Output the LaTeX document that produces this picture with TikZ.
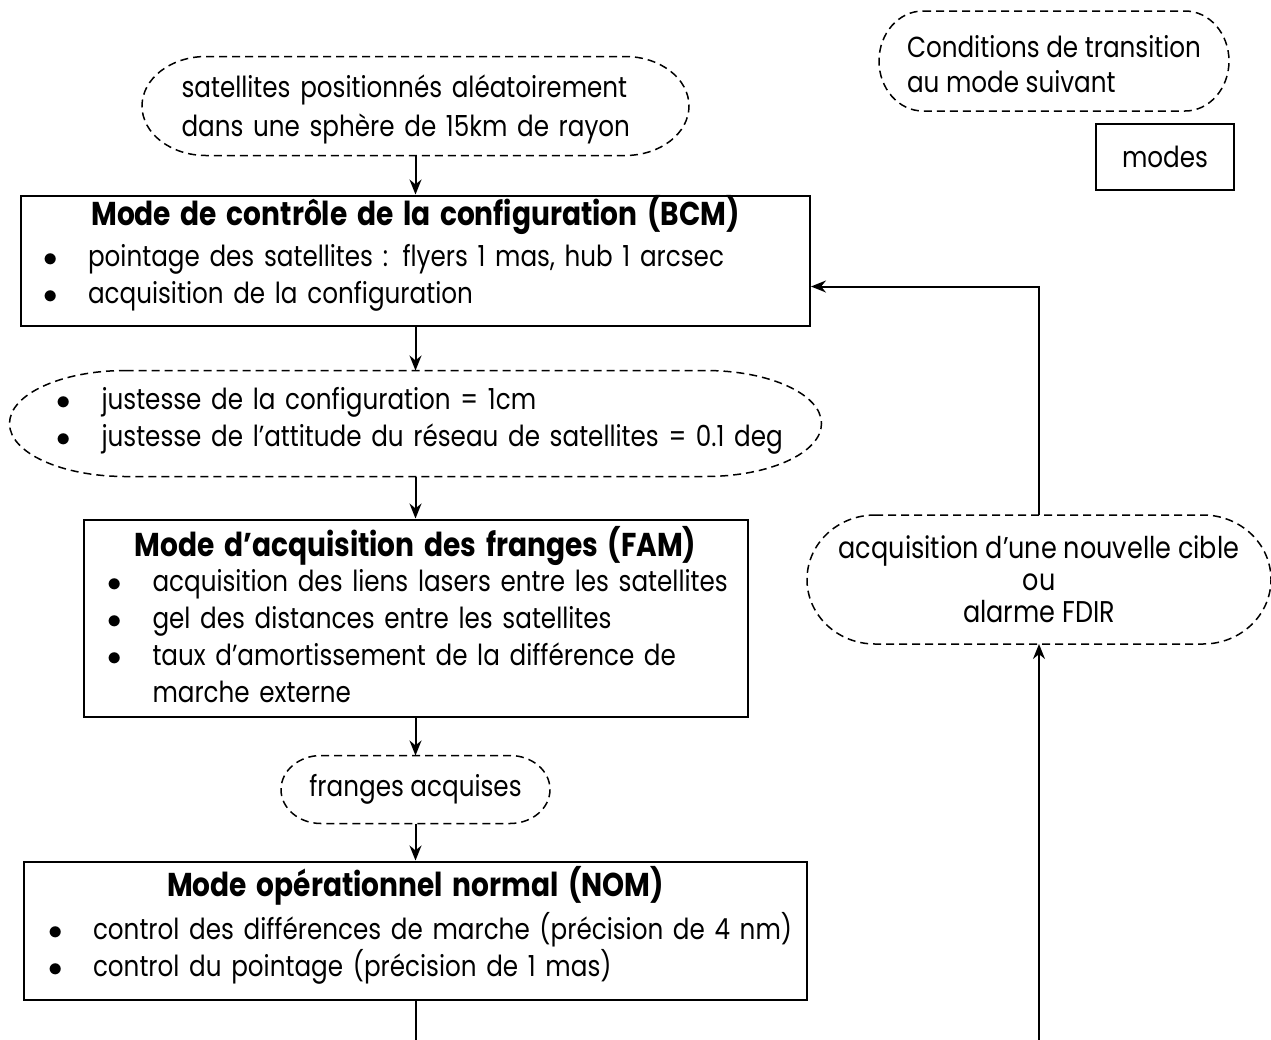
\documentclass[tikz,border=0pt]{standalone}
\usepackage{fontspec}
\setmainfont{Poppins}[FakeStretch=0.85]
\usetikzlibrary{arrows.meta,positioning,calc}
\newlength{\pucew}\setlength{\pucew}{22.5pt}
\newcommand{\puce}[2][0pt]{\noindent\hspace*{#1}\makebox[\pucew][l]{$\bullet$}\mbox{#2}\par}
\newcommand{\suite}[1]{\noindent\hspace*{\pucew}\mbox{#1}\par}
\newcommand{\titre}[2][0pt]{{\centering\fontsize{16.5}{18.5}\selectfont\bfseries #2\par}\vspace{#1}}
% contour pointille a bouts elliptiques
\newcommand{\contour}[2]{\draw[trait] let \p1=($(#1.north)-(#1.south)$) in
  ([xshift=#2]#1.north west) -- ([xshift=-#2]#1.north east)
  arc[start angle=90,end angle=-90,x radius=#2,y radius=0.5*\y1]
  -- ([xshift=#2]#1.south west)
  arc[start angle=270,end angle=90,x radius=#2,y radius=0.5*\y1] -- cycle;}

\begin{document}
\begin{tikzpicture}[x=0.5pt,y=-0.5pt,line width=1pt,>={Stealth[length=7.5pt,width=6pt]},
  base/.style={font=\fontsize{14.5}{18.5}\selectfont,inner ysep=3pt},
  mode/.style={base,draw,align=left,text width=#1,inner ysep=0pt},
  cond/.style={base,align=left,text width=#1,inner ysep=0pt},
  trait/.style={line width=0.75pt,dash pattern=on 4pt off 2.5pt}]
\useasboundingbox (0,0) rectangle (1271,1040);

\node[cond=234pt,inner xsep=19.25pt,text height=20pt,text depth=28.5pt,font=\fontsize{14.5}{19.5}\selectfont] (alea) at (415.5,106)
  {\makebox[\hsize][s]{satellites positionnés aléatoirement}\par dans une sphère de 15km de rayon};
\node[mode=372.5pt,inner xsep=11pt,text height=14.75pt,text depth=50.25pt,below=19.5pt of alea] (BCM)
  {\titre[2pt]{Mode de contrôle de la configuration (BCM)}
   \puce{pointage des satellites : flyers 1 mas, hub 1 arcsec}
   \puce{acquisition de la configuration}};
\node[cond=381pt,inner xsep=12pt,text height=19pt,text depth=33pt,below=22pt of BCM] (justesse)
  {\puce[11pt]{justesse de la configuration = 1cm}
   \puce[11pt]{justesse de l’attitude du réseau de satellites = 0.1 deg}};
\node[mode=308pt,inner xsep=12pt,text height=18.25pt,text depth=80.25pt,below=21pt of justesse] (FAM)
  {\titre[-1pt]{Mode d’acquisition des franges (FAM)}
   \puce{acquisition des liens lasers entre les satellites}
   \puce{gel des distances entre les satellites}
   \puce{taux d’amortissement de la différence de}
   \suite{marche externe}};
\node[base,minimum width=133.5pt,minimum height=33pt,below=19pt of FAM] (franges) {franges acquises};
\node[mode=367.5pt,inner xsep=12pt,text height=17.25pt,text depth=51.75pt,below=18.5pt of franges] (NOM)
  {\titre[3pt]{Mode opérationnel normal (NOM)}
   \puce{control des différences de marche (précision de 4 nm)}
   \puce{control du pointage (précision de 1 mas)}};

\node[base,font=\fontsize{15}{16}\selectfont,align=center,minimum width=231pt,minimum height=63.5pt] (retour) at (1039,579.5)
  {acquisition d’une nouvelle cible\\ou\\alarme FDIR};
\node[base,align=left,font=\fontsize{14.5}{17.5}\selectfont,minimum width=174pt,inner ysep=0pt,text height=40pt,text depth=9pt] (legC) at (1054,61)
  {Conditions de transition\\au mode suivant};
\node[base,draw,minimum width=69pt,minimum height=33pt] (legM) at (1165,157) {modes};

\contour{alea}{32pt}
\contour{justesse}{58pt}
\contour{franges}{20pt}
\contour{retour}{34pt}
\contour{legC}{22pt}

\coordinate (basG) at (415.5,1040);
\coordinate (basD) at (retour.south |- basG);
\draw[->] (alea) -- (BCM);
\draw[->] (BCM) -- (justesse);
\draw[->] (justesse) -- (FAM);
\draw[->] (FAM) -- (franges);
\draw[->] (franges) -- (NOM);
\draw (NOM) -- (basG);
\draw[->] (basD) -- (retour);
\draw[->] (retour) |- ([yshift=-13pt]BCM.east);
\end{tikzpicture}
\end{document}
